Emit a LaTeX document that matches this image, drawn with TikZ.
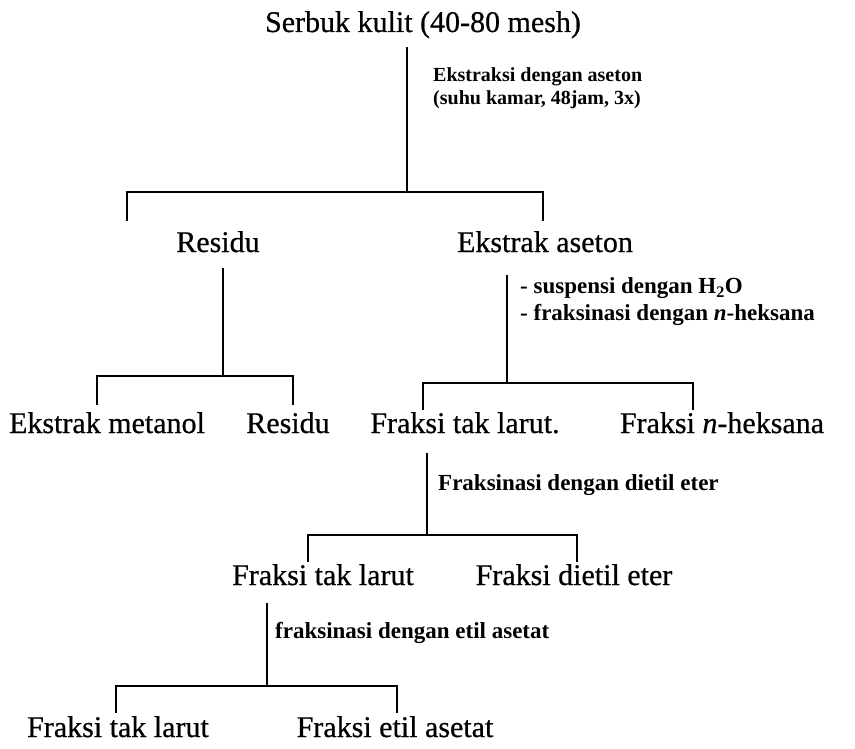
\documentclass[tikz,border=0pt]{standalone}
\usepackage{fontspec}
\setmainfont{Liberation Serif}
\newfontfamily\heavy{Liberation Serif}[FakeBold=0.6]
\begin{document}
\begin{tikzpicture}[x=1pt,y=-1pt,
  main/.style={font=\heavy\fontsize{30}{36}\selectfont, inner sep=0pt, anchor=base},
  lab/.style={font=\bfseries\fontsize{23}{27}\selectfont, inner sep=0pt, anchor=base west},
  labs/.style={font=\bfseries\fontsize{20}{24}\selectfont, inner sep=0pt, anchor=base west},
  link/.style={line width=2pt, line join=miter}]
\useasboundingbox (0,0) rectangle (855,749);

% main texts
\node[main] (serbuk) at (423,32) {Serbuk kulit (40-80 mesh)};
\node[main] (res1) at (218,252) {Residu};
\node[main] (aseton) at (545,252) {Ekstrak aseton};
\node[main] (metanol) at (107,433) {Ekstrak metanol};
\node[main] (res2) at (288,433) {Residu};
\node[main] (tl1) at (465,433) {Fraksi tak larut.};
\node[main] (heks) at (722,433) {Fraksi \textit{n}-heksana};
\node[main] (tl2) at (323,585) {Fraksi tak larut};
\node[main] (dietil) at (574,585) {Fraksi dietil eter};
\node[main] (tl3) at (118,737) {Fraksi tak larut};
\node[main] (etil) at (395,737) {Fraksi etil asetat};

% step labels
\node[labs] (l1a) at (433,82) {Ekstraksi dengan aseton};
\node[labs] (l1b) at (433,105) {(suhu kamar, 48jam, 3x)};
\node[lab] (l2a) at (520,294) {- suspensi dengan H\textsubscript{2}O};
\node[lab] (l2b) at (520,320) {- fraksinasi dengan \textit{n}-heksana};
\node[lab] (l3) at (438,490) {Fraksinasi dengan dietil eter};
\node[lab] (l4) at (275,638) {fraksinasi dengan etil asetat};

% split A
\coordinate (at) at (407,47);  \coordinate (ab) at (407,192);
\coordinate (al) at (127,192); \coordinate (ar) at (543,192);
\coordinate (ale) at (127,221); \coordinate (are) at (543,221);
% split B
\coordinate (bt) at (223,268); \coordinate (bb) at (223,376);
\coordinate (bl) at (97,376);  \coordinate (br) at (293,376);
\coordinate (ble) at (97,405); \coordinate (bre) at (293,405);
% split C
\coordinate (ct) at (507,275); \coordinate (cb) at (507,383);
\coordinate (cl) at (423,383); \coordinate (cr) at (693,383);
\coordinate (cle) at (423,410); \coordinate (cre) at (693,410);
% split D
\coordinate (dt) at (427,453); \coordinate (db) at (427,535);
\coordinate (dl) at (308,535); \coordinate (dr) at (577,535);
\coordinate (dle) at (308,562); \coordinate (dre) at (577,562);
% split E
\coordinate (et) at (267,603); \coordinate (eb) at (267,686);
\coordinate (el) at (116,686); \coordinate (er) at (397,686);
\coordinate (ele) at (116,713); \coordinate (ere) at (397,713);

\foreach \s in {a,b,c,d,e}{
  \draw[link] (\s t) -- (\s b);
  \draw[link] (\s le) -- (\s l) -- (\s r) -- (\s re);
}
\end{tikzpicture}
\end{document}
